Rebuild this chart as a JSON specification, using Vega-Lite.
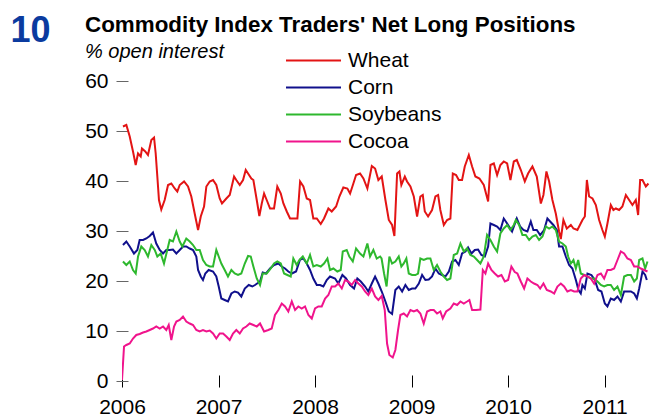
{
"$schema":"https://vega.github.io/schema/vega-lite/v6.json",
"autosize":{"type":"none"},
"padding":{"left":122,"top":81,"right":0,"bottom":35},
"width":528,"height":300,
"background":"white",
"config":{"view":{"stroke":null},"font":"Liberation Sans"},
"title":{"text":"Commodity Index Traders' Net Long Positions","subtitle":"% open interest","anchor":"start","frame":"group","dx":-37,"offset":-50,"font":"Liberation Sans","fontSize":22.4,"fontWeight":"bold","color":"#000000","subtitleFont":"Liberation Sans","subtitleFontSize":20,"subtitleFontStyle":"italic","subtitleColor":"#000000","subtitlePadding":6},
"datasets":{
"wheat":[{"year":2006.010,"value":50.9},{"year":2006.045,"value":51.2},{"year":2006.080,"value":48.9},{"year":2006.114,"value":45.9},{"year":2006.142,"value":43.2},{"year":2006.166,"value":45.5},{"year":2006.194,"value":44.9},{"year":2006.207,"value":46.5},{"year":2006.241,"value":45.9},{"year":2006.269,"value":45.2},{"year":2006.304,"value":48.2},{"year":2006.332,"value":48.7},{"year":2006.349,"value":45.5},{"year":2006.366,"value":40.9},{"year":2006.383,"value":36.2},{"year":2006.407,"value":34.3},{"year":2006.442,"value":36.2},{"year":2006.477,"value":39.2},{"year":2006.511,"value":39.5},{"year":2006.546,"value":38.5},{"year":2006.573,"value":37.9},{"year":2006.598,"value":39.2},{"year":2006.643,"value":39.9},{"year":2006.684,"value":38.9},{"year":2006.718,"value":36.9},{"year":2006.753,"value":33.5},{"year":2006.788,"value":30.2},{"year":2006.816,"value":32.9},{"year":2006.850,"value":34.9},{"year":2006.874,"value":38.9},{"year":2006.909,"value":39.9},{"year":2006.943,"value":40.2},{"year":2006.977,"value":39.2},{"year":2007.012,"value":36.5},{"year":2007.036,"value":35.5},{"year":2007.081,"value":36.5},{"year":2007.116,"value":37.2},{"year":2007.161,"value":40.9},{"year":2007.184,"value":40.2},{"year":2007.220,"value":39.2},{"year":2007.254,"value":40.2},{"year":2007.282,"value":42.2},{"year":2007.306,"value":41.5},{"year":2007.340,"value":40.5},{"year":2007.361,"value":40.2},{"year":2007.396,"value":36.2},{"year":2007.423,"value":33.0},{"year":2007.448,"value":35.5},{"year":2007.472,"value":37.5},{"year":2007.499,"value":36.2},{"year":2007.534,"value":34.5},{"year":2007.575,"value":34.5},{"year":2007.609,"value":38.9},{"year":2007.645,"value":37.5},{"year":2007.672,"value":35.5},{"year":2007.707,"value":33.9},{"year":2007.741,"value":32.5},{"year":2007.782,"value":32.5},{"year":2007.817,"value":32.5},{"year":2007.845,"value":39.9},{"year":2007.879,"value":38.9},{"year":2007.914,"value":36.5},{"year":2007.948,"value":36.2},{"year":2007.982,"value":32.5},{"year":2008.018,"value":32.5},{"year":2008.059,"value":31.4},{"year":2008.093,"value":32.5},{"year":2008.138,"value":34.5},{"year":2008.173,"value":33.9},{"year":2008.218,"value":34.9},{"year":2008.252,"value":36.9},{"year":2008.293,"value":38.7},{"year":2008.335,"value":38.5},{"year":2008.363,"value":37.5},{"year":2008.397,"value":39.5},{"year":2008.425,"value":41.2},{"year":2008.466,"value":41.5},{"year":2008.501,"value":40.5},{"year":2008.542,"value":38.5},{"year":2008.588,"value":43.0},{"year":2008.622,"value":42.5},{"year":2008.656,"value":40.2},{"year":2008.691,"value":40.9},{"year":2008.729,"value":36.2},{"year":2008.764,"value":32.2},{"year":2008.798,"value":31.2},{"year":2008.822,"value":29.0},{"year":2008.850,"value":41.5},{"year":2008.874,"value":41.9},{"year":2008.894,"value":39.2},{"year":2008.930,"value":40.9},{"year":2008.953,"value":39.9},{"year":2008.988,"value":38.9},{"year":2009.023,"value":36.9},{"year":2009.057,"value":32.9},{"year":2009.091,"value":36.9},{"year":2009.116,"value":37.2},{"year":2009.137,"value":33.9},{"year":2009.171,"value":32.9},{"year":2009.212,"value":34.2},{"year":2009.247,"value":36.9},{"year":2009.275,"value":37.2},{"year":2009.298,"value":34.2},{"year":2009.334,"value":31.2},{"year":2009.368,"value":32.2},{"year":2009.402,"value":32.5},{"year":2009.427,"value":41.5},{"year":2009.461,"value":41.2},{"year":2009.489,"value":40.2},{"year":2009.523,"value":40.2},{"year":2009.551,"value":42.9},{"year":2009.593,"value":45.2},{"year":2009.627,"value":42.9},{"year":2009.661,"value":40.9},{"year":2009.703,"value":40.5},{"year":2009.748,"value":39.2},{"year":2009.793,"value":35.9},{"year":2009.817,"value":43.2},{"year":2009.852,"value":43.5},{"year":2009.886,"value":41.2},{"year":2009.920,"value":43.2},{"year":2009.955,"value":43.9},{"year":2009.990,"value":43.5},{"year":2010.024,"value":40.2},{"year":2010.059,"value":43.9},{"year":2010.090,"value":44.2},{"year":2010.132,"value":42.2},{"year":2010.173,"value":39.9},{"year":2010.207,"value":41.5},{"year":2010.252,"value":42.9},{"year":2010.297,"value":40.9},{"year":2010.339,"value":35.5},{"year":2010.366,"value":37.2},{"year":2010.397,"value":41.9},{"year":2010.425,"value":39.9},{"year":2010.459,"value":36.2},{"year":2010.494,"value":33.5},{"year":2010.528,"value":29.9},{"year":2010.546,"value":28.4},{"year":2010.573,"value":32.2},{"year":2010.608,"value":30.5},{"year":2010.650,"value":31.2},{"year":2010.677,"value":30.5},{"year":2010.718,"value":30.2},{"year":2010.770,"value":32.2},{"year":2010.795,"value":32.9},{"year":2010.816,"value":40.2},{"year":2010.839,"value":36.9},{"year":2010.874,"value":36.5},{"year":2010.909,"value":35.2},{"year":2010.943,"value":32.2},{"year":2010.977,"value":30.2},{"year":2011.002,"value":28.9},{"year":2011.029,"value":31.5},{"year":2011.064,"value":35.2},{"year":2011.091,"value":34.2},{"year":2011.116,"value":34.5},{"year":2011.150,"value":34.2},{"year":2011.184,"value":34.9},{"year":2011.220,"value":37.2},{"year":2011.254,"value":36.2},{"year":2011.288,"value":35.2},{"year":2011.323,"value":36.2},{"year":2011.347,"value":33.2},{"year":2011.368,"value":40.2},{"year":2011.392,"value":40.2},{"year":2011.427,"value":38.9},{"year":2011.454,"value":39.5}],
"corn":[{"year":2006.010,"value":27.2},{"year":2006.045,"value":27.9},{"year":2006.080,"value":26.9},{"year":2006.124,"value":25.5},{"year":2006.159,"value":26.2},{"year":2006.183,"value":28.2},{"year":2006.218,"value":28.2},{"year":2006.252,"value":28.5},{"year":2006.287,"value":29.0},{"year":2006.321,"value":29.7},{"year":2006.355,"value":27.5},{"year":2006.391,"value":26.2},{"year":2006.425,"value":25.5},{"year":2006.459,"value":26.2},{"year":2006.494,"value":26.2},{"year":2006.528,"value":26.3},{"year":2006.563,"value":25.5},{"year":2006.598,"value":26.2},{"year":2006.632,"value":26.9},{"year":2006.666,"value":26.9},{"year":2006.702,"value":26.5},{"year":2006.736,"value":26.2},{"year":2006.770,"value":24.9},{"year":2006.788,"value":22.2},{"year":2006.816,"value":20.9},{"year":2006.839,"value":20.2},{"year":2006.863,"value":21.5},{"year":2006.898,"value":22.2},{"year":2006.943,"value":21.9},{"year":2006.977,"value":20.9},{"year":2007.002,"value":18.9},{"year":2007.029,"value":16.5},{"year":2007.064,"value":16.2},{"year":2007.098,"value":15.9},{"year":2007.133,"value":17.5},{"year":2007.168,"value":17.9},{"year":2007.202,"value":17.7},{"year":2007.236,"value":16.9},{"year":2007.272,"value":18.5},{"year":2007.313,"value":19.2},{"year":2007.350,"value":18.9},{"year":2007.378,"value":19.2},{"year":2007.430,"value":19.9},{"year":2007.458,"value":21.7},{"year":2007.492,"value":21.5},{"year":2007.534,"value":22.5},{"year":2007.575,"value":23.2},{"year":2007.620,"value":23.5},{"year":2007.655,"value":22.9},{"year":2007.689,"value":22.5},{"year":2007.723,"value":21.9},{"year":2007.759,"value":21.5},{"year":2007.803,"value":21.9},{"year":2007.845,"value":24.3},{"year":2007.879,"value":24.5},{"year":2007.914,"value":23.5},{"year":2007.948,"value":22.2},{"year":2007.982,"value":20.5},{"year":2008.018,"value":19.2},{"year":2008.052,"value":19.2},{"year":2008.086,"value":18.9},{"year":2008.121,"value":20.2},{"year":2008.155,"value":20.9},{"year":2008.207,"value":20.5},{"year":2008.241,"value":19.5},{"year":2008.283,"value":21.2},{"year":2008.321,"value":20.5},{"year":2008.363,"value":19.2},{"year":2008.404,"value":18.5},{"year":2008.438,"value":20.5},{"year":2008.474,"value":19.9},{"year":2008.518,"value":18.9},{"year":2008.552,"value":17.9},{"year":2008.588,"value":19.5},{"year":2008.622,"value":20.9},{"year":2008.656,"value":19.5},{"year":2008.691,"value":17.9},{"year":2008.729,"value":15.9},{"year":2008.764,"value":13.9},{"year":2008.798,"value":13.4},{"year":2008.832,"value":18.2},{"year":2008.867,"value":18.9},{"year":2008.902,"value":17.9},{"year":2008.936,"value":19.2},{"year":2008.971,"value":18.2},{"year":2009.005,"value":18.5},{"year":2009.039,"value":18.5},{"year":2009.075,"value":19.5},{"year":2009.109,"value":21.2},{"year":2009.143,"value":20.2},{"year":2009.178,"value":20.3},{"year":2009.212,"value":20.9},{"year":2009.247,"value":22.5},{"year":2009.282,"value":21.5},{"year":2009.316,"value":21.2},{"year":2009.350,"value":20.9},{"year":2009.386,"value":21.9},{"year":2009.420,"value":23.9},{"year":2009.454,"value":24.2},{"year":2009.489,"value":23.2},{"year":2009.523,"value":25.5},{"year":2009.558,"value":25.9},{"year":2009.585,"value":26.7},{"year":2009.620,"value":25.5},{"year":2009.655,"value":26.2},{"year":2009.689,"value":26.3},{"year":2009.723,"value":25.2},{"year":2009.759,"value":24.9},{"year":2009.793,"value":26.9},{"year":2009.817,"value":31.5},{"year":2009.852,"value":31.2},{"year":2009.886,"value":30.9},{"year":2009.920,"value":30.2},{"year":2009.955,"value":32.5},{"year":2009.990,"value":31.5},{"year":2010.041,"value":29.9},{"year":2010.090,"value":32.5},{"year":2010.124,"value":30.9},{"year":2010.159,"value":30.2},{"year":2010.200,"value":29.9},{"year":2010.235,"value":31.9},{"year":2010.262,"value":30.2},{"year":2010.297,"value":30.2},{"year":2010.332,"value":29.2},{"year":2010.373,"value":30.2},{"year":2010.407,"value":32.5},{"year":2010.435,"value":31.9},{"year":2010.469,"value":31.2},{"year":2010.505,"value":30.2},{"year":2010.528,"value":26.9},{"year":2010.563,"value":26.9},{"year":2010.598,"value":24.9},{"year":2010.632,"value":23.2},{"year":2010.666,"value":22.5},{"year":2010.702,"value":20.2},{"year":2010.729,"value":18.2},{"year":2010.753,"value":17.5},{"year":2010.770,"value":19.2},{"year":2010.795,"value":18.5},{"year":2010.822,"value":21.5},{"year":2010.863,"value":21.2},{"year":2010.898,"value":20.2},{"year":2010.933,"value":18.2},{"year":2010.967,"value":17.9},{"year":2011.002,"value":15.5},{"year":2011.029,"value":14.9},{"year":2011.064,"value":16.5},{"year":2011.098,"value":16.2},{"year":2011.133,"value":16.9},{"year":2011.168,"value":15.9},{"year":2011.202,"value":17.9},{"year":2011.236,"value":17.9},{"year":2011.272,"value":17.9},{"year":2011.306,"value":17.5},{"year":2011.334,"value":16.5},{"year":2011.358,"value":18.5},{"year":2011.392,"value":21.9},{"year":2011.420,"value":21.2},{"year":2011.437,"value":20.2}],
"soy":[{"year":2006.010,"value":23.9},{"year":2006.045,"value":23.2},{"year":2006.080,"value":23.9},{"year":2006.114,"value":22.2},{"year":2006.142,"value":21.5},{"year":2006.166,"value":24.9},{"year":2006.200,"value":26.9},{"year":2006.235,"value":26.2},{"year":2006.269,"value":24.9},{"year":2006.304,"value":27.2},{"year":2006.339,"value":26.2},{"year":2006.366,"value":24.9},{"year":2006.401,"value":25.5},{"year":2006.435,"value":23.5},{"year":2006.469,"value":26.2},{"year":2006.494,"value":28.2},{"year":2006.528,"value":27.9},{"year":2006.563,"value":29.9},{"year":2006.598,"value":27.9},{"year":2006.625,"value":26.9},{"year":2006.666,"value":28.5},{"year":2006.702,"value":27.9},{"year":2006.736,"value":27.2},{"year":2006.770,"value":26.2},{"year":2006.805,"value":26.2},{"year":2006.839,"value":24.2},{"year":2006.874,"value":23.2},{"year":2006.909,"value":22.9},{"year":2006.943,"value":22.9},{"year":2006.977,"value":26.2},{"year":2007.002,"value":24.9},{"year":2007.029,"value":23.5},{"year":2007.064,"value":22.2},{"year":2007.098,"value":20.9},{"year":2007.133,"value":22.2},{"year":2007.168,"value":21.5},{"year":2007.202,"value":21.2},{"year":2007.236,"value":21.5},{"year":2007.272,"value":23.5},{"year":2007.306,"value":25.0},{"year":2007.334,"value":24.9},{"year":2007.361,"value":22.9},{"year":2007.396,"value":20.5},{"year":2007.430,"value":19.2},{"year":2007.458,"value":21.5},{"year":2007.499,"value":21.5},{"year":2007.541,"value":22.5},{"year":2007.575,"value":23.5},{"year":2007.609,"value":23.9},{"year":2007.645,"value":23.5},{"year":2007.679,"value":21.5},{"year":2007.713,"value":21.2},{"year":2007.748,"value":20.9},{"year":2007.775,"value":24.5},{"year":2007.810,"value":23.2},{"year":2007.837,"value":24.2},{"year":2007.873,"value":24.9},{"year":2007.914,"value":23.5},{"year":2007.948,"value":25.2},{"year":2007.982,"value":22.9},{"year":2008.018,"value":23.2},{"year":2008.059,"value":22.9},{"year":2008.093,"value":23.5},{"year":2008.128,"value":24.5},{"year":2008.155,"value":22.2},{"year":2008.190,"value":22.5},{"year":2008.231,"value":21.9},{"year":2008.266,"value":22.2},{"year":2008.287,"value":25.9},{"year":2008.328,"value":26.2},{"year":2008.355,"value":24.9},{"year":2008.391,"value":23.9},{"year":2008.425,"value":26.5},{"year":2008.466,"value":25.5},{"year":2008.501,"value":24.9},{"year":2008.542,"value":27.5},{"year":2008.570,"value":24.9},{"year":2008.604,"value":26.2},{"year":2008.639,"value":24.5},{"year":2008.674,"value":24.9},{"year":2008.689,"value":24.5},{"year":2008.715,"value":21.5},{"year":2008.741,"value":18.9},{"year":2008.770,"value":24.9},{"year":2008.798,"value":23.5},{"year":2008.832,"value":23.9},{"year":2008.867,"value":24.9},{"year":2008.894,"value":22.9},{"year":2008.919,"value":23.5},{"year":2008.946,"value":24.5},{"year":2008.971,"value":21.5},{"year":2009.005,"value":21.2},{"year":2009.039,"value":21.2},{"year":2009.067,"value":21.5},{"year":2009.091,"value":24.5},{"year":2009.126,"value":24.2},{"year":2009.161,"value":24.5},{"year":2009.195,"value":24.5},{"year":2009.230,"value":22.2},{"year":2009.264,"value":23.2},{"year":2009.298,"value":21.9},{"year":2009.334,"value":20.9},{"year":2009.368,"value":20.2},{"year":2009.402,"value":20.5},{"year":2009.437,"value":25.2},{"year":2009.472,"value":25.5},{"year":2009.506,"value":27.5},{"year":2009.541,"value":25.9},{"year":2009.575,"value":26.5},{"year":2009.609,"value":25.2},{"year":2009.645,"value":24.9},{"year":2009.679,"value":24.2},{"year":2009.713,"value":23.5},{"year":2009.748,"value":24.9},{"year":2009.782,"value":29.2},{"year":2009.817,"value":28.2},{"year":2009.852,"value":26.9},{"year":2009.886,"value":25.9},{"year":2009.920,"value":29.5},{"year":2009.955,"value":30.5},{"year":2009.990,"value":31.2},{"year":2010.024,"value":30.2},{"year":2010.059,"value":31.2},{"year":2010.080,"value":32.2},{"year":2010.114,"value":31.2},{"year":2010.148,"value":29.2},{"year":2010.183,"value":29.2},{"year":2010.218,"value":28.2},{"year":2010.252,"value":28.9},{"year":2010.287,"value":29.2},{"year":2010.321,"value":28.2},{"year":2010.356,"value":28.9},{"year":2010.391,"value":30.9},{"year":2010.425,"value":30.5},{"year":2010.459,"value":30.9},{"year":2010.494,"value":30.2},{"year":2010.528,"value":27.9},{"year":2010.563,"value":27.5},{"year":2010.598,"value":26.9},{"year":2010.622,"value":24.9},{"year":2010.650,"value":23.5},{"year":2010.677,"value":24.2},{"year":2010.702,"value":22.5},{"year":2010.726,"value":24.2},{"year":2010.753,"value":21.5},{"year":2010.788,"value":21.2},{"year":2010.822,"value":20.9},{"year":2010.857,"value":20.5},{"year":2010.891,"value":20.5},{"year":2010.926,"value":19.9},{"year":2010.961,"value":19.2},{"year":2010.995,"value":18.9},{"year":2011.029,"value":19.2},{"year":2011.064,"value":19.2},{"year":2011.098,"value":18.2},{"year":2011.133,"value":18.9},{"year":2011.168,"value":17.2},{"year":2011.202,"value":20.9},{"year":2011.236,"value":21.2},{"year":2011.272,"value":21.2},{"year":2011.306,"value":19.9},{"year":2011.334,"value":20.5},{"year":2011.358,"value":24.2},{"year":2011.392,"value":24.5},{"year":2011.420,"value":22.5},{"year":2011.444,"value":23.9}],
"cocoa":[{"year":2006.000,"value":0.2},{"year":2006.021,"value":6.9},{"year":2006.045,"value":7.2},{"year":2006.080,"value":7.5},{"year":2006.114,"value":8.5},{"year":2006.148,"value":9.2},{"year":2006.183,"value":9.4},{"year":2006.218,"value":9.7},{"year":2006.252,"value":9.9},{"year":2006.287,"value":10.2},{"year":2006.321,"value":10.5},{"year":2006.355,"value":10.9},{"year":2006.391,"value":10.5},{"year":2006.425,"value":10.9},{"year":2006.459,"value":10.2},{"year":2006.484,"value":11.2},{"year":2006.511,"value":8.2},{"year":2006.539,"value":10.9},{"year":2006.563,"value":11.9},{"year":2006.598,"value":12.2},{"year":2006.632,"value":12.9},{"year":2006.666,"value":11.9},{"year":2006.702,"value":11.5},{"year":2006.736,"value":11.2},{"year":2006.770,"value":10.2},{"year":2006.805,"value":9.9},{"year":2006.839,"value":10.2},{"year":2006.874,"value":9.9},{"year":2006.909,"value":10.1},{"year":2006.943,"value":9.5},{"year":2006.977,"value":8.5},{"year":2007.012,"value":9.5},{"year":2007.047,"value":9.5},{"year":2007.081,"value":8.9},{"year":2007.116,"value":8.2},{"year":2007.150,"value":9.5},{"year":2007.184,"value":10.2},{"year":2007.220,"value":9.5},{"year":2007.254,"value":10.5},{"year":2007.288,"value":10.9},{"year":2007.323,"value":11.5},{"year":2007.361,"value":11.2},{"year":2007.396,"value":10.9},{"year":2007.430,"value":11.5},{"year":2007.472,"value":9.9},{"year":2007.516,"value":10.2},{"year":2007.551,"value":10.5},{"year":2007.585,"value":13.2},{"year":2007.620,"value":14.2},{"year":2007.655,"value":15.5},{"year":2007.689,"value":14.9},{"year":2007.723,"value":13.9},{"year":2007.759,"value":15.9},{"year":2007.793,"value":14.2},{"year":2007.827,"value":14.9},{"year":2007.862,"value":14.5},{"year":2007.896,"value":14.9},{"year":2007.931,"value":13.2},{"year":2007.966,"value":12.5},{"year":2008.000,"value":14.5},{"year":2008.034,"value":14.9},{"year":2008.069,"value":14.9},{"year":2008.104,"value":16.5},{"year":2008.138,"value":17.2},{"year":2008.173,"value":18.9},{"year":2008.207,"value":18.9},{"year":2008.241,"value":19.5},{"year":2008.277,"value":18.5},{"year":2008.311,"value":20.2},{"year":2008.345,"value":19.9},{"year":2008.380,"value":19.2},{"year":2008.415,"value":20.2},{"year":2008.449,"value":19.5},{"year":2008.484,"value":18.9},{"year":2008.518,"value":17.9},{"year":2008.552,"value":17.2},{"year":2008.588,"value":18.5},{"year":2008.622,"value":16.9},{"year":2008.656,"value":16.2},{"year":2008.691,"value":17.0},{"year":2008.722,"value":14.2},{"year":2008.746,"value":7.5},{"year":2008.770,"value":5.2},{"year":2008.805,"value":4.7},{"year":2008.832,"value":6.2},{"year":2008.860,"value":10.2},{"year":2008.884,"value":13.2},{"year":2008.919,"value":13.5},{"year":2008.953,"value":12.9},{"year":2008.988,"value":14.2},{"year":2009.023,"value":13.9},{"year":2009.057,"value":14.2},{"year":2009.091,"value":13.5},{"year":2009.126,"value":11.5},{"year":2009.161,"value":13.9},{"year":2009.195,"value":14.2},{"year":2009.230,"value":14.2},{"year":2009.264,"value":13.5},{"year":2009.298,"value":13.9},{"year":2009.323,"value":12.5},{"year":2009.358,"value":13.9},{"year":2009.402,"value":14.5},{"year":2009.437,"value":15.5},{"year":2009.472,"value":15.2},{"year":2009.506,"value":15.9},{"year":2009.541,"value":15.5},{"year":2009.575,"value":15.9},{"year":2009.599,"value":16.2},{"year":2009.627,"value":14.2},{"year":2009.668,"value":14.2},{"year":2009.713,"value":14.3},{"year":2009.738,"value":22.2},{"year":2009.765,"value":21.5},{"year":2009.793,"value":23.5},{"year":2009.827,"value":22.2},{"year":2009.862,"value":21.5},{"year":2009.896,"value":20.9},{"year":2009.931,"value":21.2},{"year":2009.966,"value":19.9},{"year":2010.000,"value":20.2},{"year":2010.034,"value":22.9},{"year":2010.069,"value":21.8},{"year":2010.096,"value":21.5},{"year":2010.132,"value":19.9},{"year":2010.166,"value":18.5},{"year":2010.200,"value":20.5},{"year":2010.235,"value":19.9},{"year":2010.269,"value":19.5},{"year":2010.304,"value":19.2},{"year":2010.332,"value":18.5},{"year":2010.366,"value":19.5},{"year":2010.401,"value":18.2},{"year":2010.442,"value":17.9},{"year":2010.477,"value":17.5},{"year":2010.511,"value":18.9},{"year":2010.546,"value":19.5},{"year":2010.580,"value":18.9},{"year":2010.614,"value":17.9},{"year":2010.650,"value":18.2},{"year":2010.684,"value":17.9},{"year":2010.718,"value":17.9},{"year":2010.753,"value":20.5},{"year":2010.788,"value":21.2},{"year":2010.822,"value":20.9},{"year":2010.857,"value":20.5},{"year":2010.891,"value":19.5},{"year":2010.926,"value":21.2},{"year":2010.961,"value":21.5},{"year":2010.995,"value":20.5},{"year":2011.029,"value":22.2},{"year":2011.064,"value":22.2},{"year":2011.098,"value":22.5},{"year":2011.133,"value":24.2},{"year":2011.168,"value":25.9},{"year":2011.202,"value":25.5},{"year":2011.236,"value":24.5},{"year":2011.272,"value":24.2},{"year":2011.306,"value":22.9},{"year":2011.340,"value":22.9},{"year":2011.375,"value":22.5},{"year":2011.409,"value":22.2},{"year":2011.444,"value":21.9}]
},
"encoding":{
"x":{"field":"year","type":"quantitative","scale":{"domain":[2006,2011.47],"nice":false,"zero":false},
"axis":{"title":null,"values":[2006,2007,2008,2009,2010,2011],"format":"d","grid":false,"domain":false,"offset":-6,"tickSize":12,"tickColor":"#000000","tickWidth":1,"labelFontSize":21,"labelColor":"#000000","labelPadding":9,"labelFlush":false,"labelFont":"Liberation Sans"}},
"y":{"field":"value","type":"quantitative","scale":{"domain":[0,60],"nice":false},
"axis":{"title":"10","titleFontSize":36,"titleFontWeight":"bold","titleColor":"#0B3B9F","titleFont":"Liberation Sans","titleAngle":0,"titleAlign":"left","titleBaseline":"alphabetic","titleX":-118,"titleY":-40,"values":[0,10,20,30,40,50,60],"grid":false,"domain":false,"offset":-6,"tickSize":12,"tickColor":"#666666","tickWidth":1,"labelFontSize":21,"labelColor":"#000000","labelPadding":8,"labelFlush":false,"labelFont":"Liberation Sans"}}
},
"layer":[
{"data":{"values":[{"year":2006}]},"mark":{"type":"rule","color":"#8a8a8a","strokeWidth":2},"encoding":{"x":{"field":"year","type":"quantitative"},"y":{"datum":0},"y2":{"datum":60}}},
{"data":{"values":[{"value":0}]},"mark":{"type":"rule","color":"#000000","strokeWidth":1.5},"encoding":{"y":{"field":"value","type":"quantitative"},"x":{"datum":2006},"x2":{"datum":2011.47}}},
{"data":{"name":"wheat"},"mark":{"type":"line","strokeWidth":2,"clip":true},"encoding":{"color":{"datum":"Wheat","type":"nominal","scale":{"domain":["Wheat","Corn","Soybeans","Cocoa"],"range":["#e31414","#10108c","#2eb82e","#f0148c"]},
"legend":{"title":null,"orient":"none","legendX":163,"legendY":-31,"symbolType":"stroke","symbolSize":3025,"symbolStrokeWidth":2,"clipHeight":21,"labelFontSize":21,"labelFont":"Liberation Sans","labelColor":"#000000","labelOffset":6,"rowPadding":5,"padding":0}}}},
{"data":{"name":"corn"},"mark":{"type":"line","strokeWidth":2,"clip":true},"encoding":{"color":{"datum":"Corn","type":"nominal"}}},
{"data":{"name":"soy"},"mark":{"type":"line","strokeWidth":2,"clip":true},"encoding":{"color":{"datum":"Soybeans","type":"nominal"}}},
{"data":{"name":"cocoa"},"mark":{"type":"line","strokeWidth":2,"clip":true},"encoding":{"color":{"datum":"Cocoa","type":"nominal"}}}
]
}
